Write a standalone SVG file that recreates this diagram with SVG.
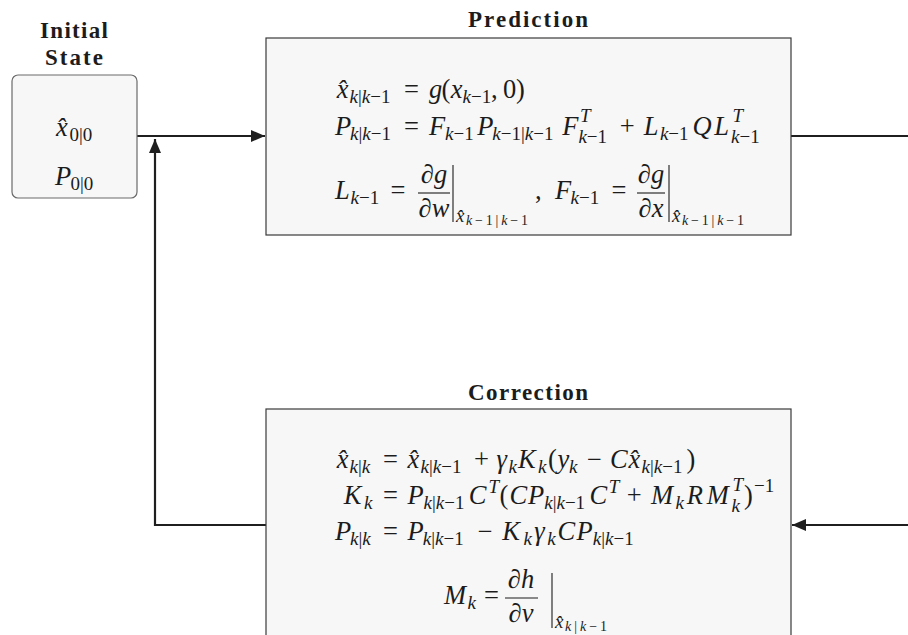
<svg xmlns="http://www.w3.org/2000/svg" width="908" height="635" viewBox="0 0 908 635">
<style>
.bg{fill:#ffffff}
.box{fill:#f7f7f7;stroke:#3a3a3a;stroke-width:1.2}
.ibox{fill:#f7f7f7;stroke:#6a6a6a;stroke-width:1.2}
.title{font-family:"Liberation Serif","Times New Roman",serif;font-weight:bold;font-size:23px;fill:#1c1c1c;text-anchor:middle}
.mt{font-family:"Liberation Serif","Times New Roman",serif;font-size:26.5px;fill:#1c1c1c}
.mc{font-family:"Liberation Serif","Times New Roman",serif;font-size:26.5px;fill:#1c1c1c;text-anchor:middle}
.s{font-size:19px}
.ss{font-size:14px}
.it{font-style:italic}
.rule{stroke:#1c1c1c;stroke-width:1.1}
.conn{fill:none;stroke:#1f1f1f;stroke-width:2.2}
</style>
<defs>
<marker id="ah" markerWidth="14" markerHeight="12" refX="14" refY="6" orient="auto" markerUnits="userSpaceOnUse">
<path d="M0,0 L14,6 L0,12 z" fill="#1f1f1f"/>
</marker>
</defs>
<rect class="bg" x="0" y="0" width="908" height="635"/>

<g id="connectors">
<path class="conn" d="M137,136 H265" marker-end="url(#ah)"/>
<path class="conn" d="M791,136 H908"/>
<path class="conn" d="M908,525 H792" marker-end="url(#ah)"/>
<path class="conn" d="M266,525 H155 V139" marker-end="url(#ah)"/>
</g>

<g id="initial-state">
<text class="title" x="74" y="38" textLength="68" lengthAdjust="spacing">Initial</text>
<text class="title" x="74" y="65" textLength="58" lengthAdjust="spacing">State</text>
<rect class="ibox" x="12" y="75" width="125" height="123" rx="6"/>
<text class="mt"><tspan class="it" x="56" y="136">x̂</tspan><tspan class="s" x="69.5" y="141">0|0</tspan></text>
<text class="mt"><tspan class="it" x="55" y="185">P</tspan><tspan class="s" x="70.5" y="190">0|0</tspan></text>
</g>

<g id="prediction">
<text class="title" x="528" y="27" textLength="120" lengthAdjust="spacing">Prediction</text>
<rect class="box" x="266" y="38" width="525" height="197"/>
<text class="mt"><tspan class="it" x="336.7" y="98">x̂</tspan><tspan class="s" x="349.5" y="103"><tspan class="it">k</tspan>|<tspan class="it">k</tspan>−1</tspan><tspan x="404" y="98">=</tspan><tspan class="it" x="429" y="98">g</tspan><tspan x="441.5" y="98">(</tspan><tspan class="it" x="450.8" y="98">x</tspan><tspan class="s" x="462.5" y="103"><tspan class="it">k</tspan>−1</tspan><tspan x="491" y="98">,</tspan><tspan x="503" y="98">0</tspan><tspan x="516" y="98">)</tspan></text>
<text class="mt"><tspan class="it" x="335" y="135">P</tspan><tspan class="s" x="350" y="140"><tspan class="it">k</tspan>|<tspan class="it">k</tspan>−1</tspan><tspan x="404" y="135">=</tspan><tspan class="it" x="429" y="135">F</tspan><tspan class="s" x="445.1" y="140"><tspan class="it">k</tspan>−1</tspan><tspan class="it" x="477.2" y="135">P</tspan><tspan class="s" x="492.3" y="140"><tspan class="it">k</tspan>−1|<tspan class="it">k</tspan>−1</tspan><tspan class="it" x="562.3" y="135">F</tspan><tspan class="s it" x="580" y="122">T</tspan><tspan class="s" x="578.4" y="143"><tspan class="it">k</tspan>−1</tspan><tspan x="619.7" y="135">+</tspan><tspan class="it" x="643.8" y="135">L</tspan><tspan class="s" x="659.9" y="140"><tspan class="it">k</tspan>−1</tspan><tspan class="it" x="692.6" y="135">Q</tspan><tspan class="it" x="714.3" y="135">L</tspan><tspan class="s it" x="732.5" y="122">T</tspan><tspan class="s" x="731" y="143"><tspan class="it">k</tspan>−1</tspan></text>
<text class="mt"><tspan class="it" x="335" y="199">L</tspan><tspan class="s" x="350.5" y="204"><tspan class="it">k</tspan>−1</tspan><tspan x="390.5" y="199">=</tspan><tspan x="535" y="199">,</tspan><tspan class="it" x="555" y="199">F</tspan><tspan class="s" x="570.5" y="204"><tspan class="it">k</tspan>−1</tspan><tspan x="611.5" y="199">=</tspan></text>
<text class="mc" x="434" y="183">∂<tspan class="it">g</tspan></text>
<text class="mc" x="434" y="217">∂<tspan class="it">w</tspan></text>
<line class="rule" x1="418" y1="193" x2="450" y2="193"/>
<line class="rule" x1="453" y1="165" x2="453" y2="222"/>
<text class="mt"><tspan class="s it" x="456" y="222">x̂</tspan><tspan class="ss" x="466" y="225" textLength="62" lengthAdjust="spacing"><tspan class="it">k</tspan>−1|<tspan class="it">k</tspan>−1</tspan></text>
<text class="mc" x="651" y="183">∂<tspan class="it">g</tspan></text>
<text class="mc" x="651" y="217">∂<tspan class="it">x</tspan></text>
<line class="rule" x1="637" y1="193" x2="665" y2="193"/>
<line class="rule" x1="669" y1="165" x2="669" y2="222"/>
<text class="mt"><tspan class="s it" x="672" y="222">x̂</tspan><tspan class="ss" x="682" y="225" textLength="62" lengthAdjust="spacing"><tspan class="it">k</tspan>−1|<tspan class="it">k</tspan>−1</tspan></text>
</g>

<g id="correction">
<text class="title" x="528" y="400" textLength="120" lengthAdjust="spacing">Correction</text>
<rect class="box" x="266" y="409" width="525" height="240"/>
<text class="mt"><tspan class="it" x="336.8" y="468">x̂</tspan><tspan class="s" x="349.5" y="473"><tspan class="it">k</tspan>|<tspan class="it">k</tspan></tspan><tspan x="383" y="468">=</tspan><tspan class="it" x="407.6" y="468">x̂</tspan><tspan class="s" x="420.5" y="473"><tspan class="it">k</tspan>|<tspan class="it">k</tspan>−1</tspan><tspan x="474" y="468">+</tspan><tspan class="it" x="496.5" y="468">γ</tspan><tspan class="s it" x="508.5" y="473">k</tspan><tspan class="it" x="518" y="468">K</tspan><tspan class="s it" x="538" y="473">k</tspan><tspan x="548" y="468">(</tspan><tspan class="it" x="557.5" y="468">y</tspan><tspan class="s it" x="569" y="473">k</tspan><tspan x="587" y="468">−</tspan><tspan class="it" x="610" y="468">C</tspan><tspan class="it" x="628.5" y="468">x̂</tspan><tspan class="s" x="641.5" y="473"><tspan class="it">k</tspan>|<tspan class="it">k</tspan>−1</tspan><tspan x="686.5" y="468">)</tspan></text>
<text class="mt"><tspan class="it" x="343.8" y="504">K</tspan><tspan class="s it" x="364" y="509">k</tspan><tspan x="383" y="504">=</tspan><tspan class="it" x="407.6" y="504">P</tspan><tspan class="s" x="423.6" y="509"><tspan class="it">k</tspan>|<tspan class="it">k</tspan>−1</tspan><tspan class="it" x="468.7" y="504">C</tspan><tspan class="s it" x="488.5" y="493">T</tspan><tspan x="499.5" y="504">(</tspan><tspan class="it" x="509.5" y="504">C</tspan><tspan class="it" x="527.9" y="504">P</tspan><tspan class="s" x="544.2" y="509"><tspan class="it">k</tspan>|<tspan class="it">k</tspan>−1</tspan><tspan class="it" x="589.4" y="504">C</tspan><tspan class="s it" x="608.8" y="493">T</tspan><tspan x="626.7" y="504">+</tspan><tspan class="it" x="650.9" y="504">M</tspan><tspan class="s it" x="675.6" y="509">k</tspan><tspan class="it" x="686.7" y="504">R</tspan><tspan class="it" x="706.8" y="504">M</tspan><tspan class="s it" x="732.4" y="491">T</tspan><tspan class="s it" x="731.4" y="512">k</tspan><tspan x="744" y="504">)</tspan><tspan class="s" x="754" y="492">−1</tspan></text>
<text class="mt"><tspan class="it" x="335" y="540">P</tspan><tspan class="s" x="350" y="545"><tspan class="it">k</tspan>|<tspan class="it">k</tspan></tspan><tspan x="383" y="540">=</tspan><tspan class="it" x="407.6" y="540">P</tspan><tspan class="s" x="422.8" y="545"><tspan class="it">k</tspan>|<tspan class="it">k</tspan>−1</tspan><tspan x="477.7" y="540">−</tspan><tspan class="it" x="502.2" y="540">K</tspan><tspan class="s it" x="523.6" y="545">k</tspan><tspan class="it" x="534.2" y="540">γ</tspan><tspan class="s it" x="547.3" y="545">k</tspan><tspan class="it" x="557.4" y="540">C</tspan><tspan class="it" x="576.4" y="540">P</tspan><tspan class="s" x="592.8" y="545"><tspan class="it">k</tspan>|<tspan class="it">k</tspan>−1</tspan></text>
<text class="mt"><tspan class="it" x="444" y="604">M</tspan><tspan class="s it" x="467.5" y="609">k</tspan><tspan x="484" y="604">=</tspan></text>
<text class="mc" x="521" y="588">∂<tspan class="it">h</tspan></text>
<text class="mc" x="521" y="622">∂<tspan class="it">v</tspan></text>
<line class="rule" x1="505" y1="598" x2="538" y2="598"/>
<line class="rule" x1="552" y1="573" x2="552" y2="628"/>
<text class="mt"><tspan class="s it" x="555" y="628">x̂</tspan><tspan class="ss" x="565" y="631" textLength="42" lengthAdjust="spacing"><tspan class="it">k</tspan>|<tspan class="it">k</tspan>−1</tspan></text>
</g>
</svg>
